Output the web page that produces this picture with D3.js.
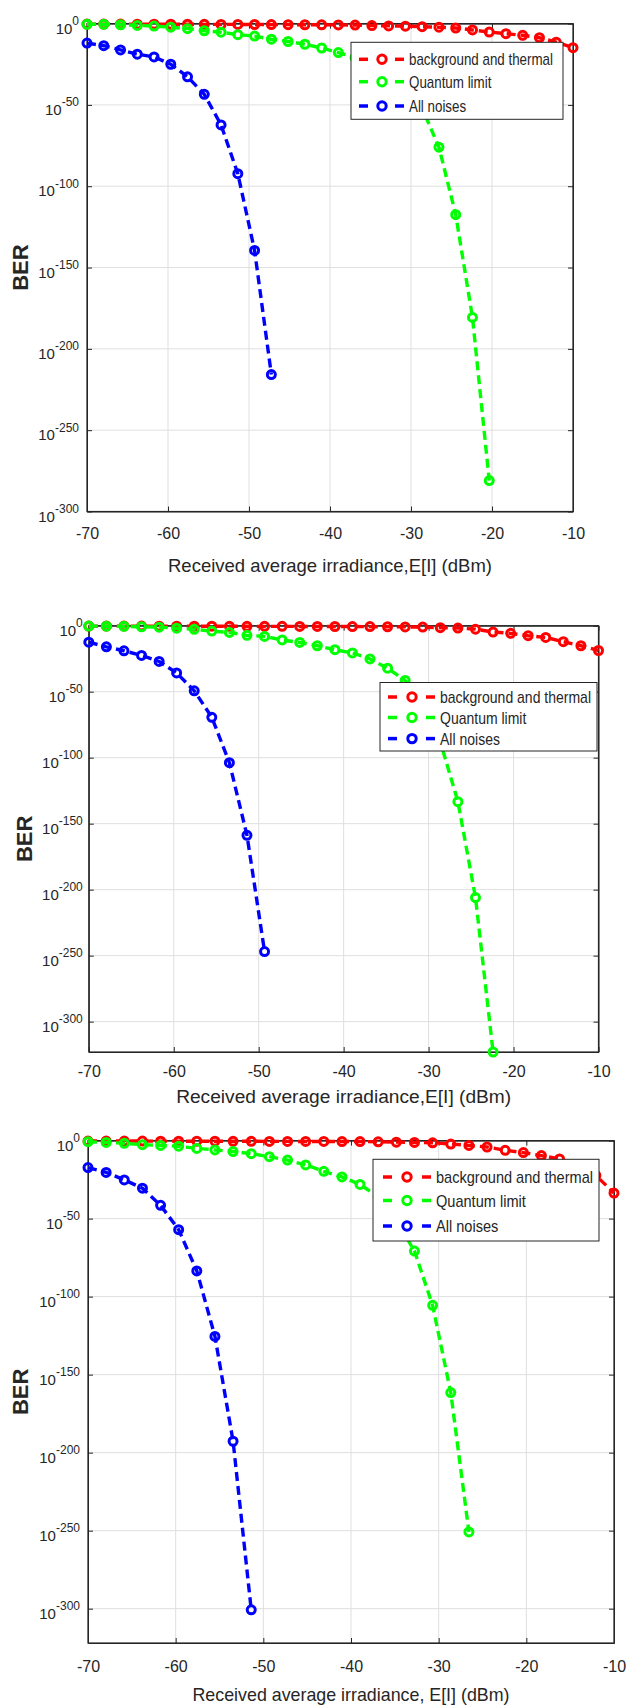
<!DOCTYPE html>
<html>
<head>
<meta charset="utf-8">
<script src="https://cdn.jsdelivr.net/npm/d3@7"></script>
<style>
  body { margin: 0; background: #fff; }
  text { font-family: "Liberation Sans", Arial, sans-serif; fill: #262626; }
</style>
</head>
<body>
<div id="chart"></div>
<script>
// received average irradiance (dBm), same grid for all three panels
var xDbm = [-70, -67.93, -65.86, -63.79, -61.72, -59.66, -57.59, -55.52, -53.45, -51.38,
            -49.31, -47.24, -45.17, -43.10, -41.03, -38.97, -36.90, -34.83, -32.76, -30.69,
            -28.62, -26.55, -24.48, -22.41, -20.34, -18.28, -16.21, -14.14, -12.07, -10];

var xTicks = [-70, -60, -50, -40, -30, -20, -10];
var yTickExp = [0, -50, -100, -150, -200, -250, -300];   // BER = 10^exp
var seriesNames = ["background and thermal", "Quantum limit", "All noises"];
var seriesColors = ["#ff0000", "#00ff00", "#0000ff"];
var xTitles = ["Received average irradiance,E[I] (dBm)",
               "Received average irradiance,E[I] (dBm)",
               "Received average irradiance, E[I] (dBm)"];

// values are log10(BER)
var p1Thermal = [-0.3, -0.3, -0.3, -0.35, -0.35, -0.4, -0.4, -0.45, -0.5, -0.5,
                 -0.55, -0.6, -0.65, -0.7, -0.75, -0.8, -0.9, -1.2, -1.4, -1.6,
                 -1.9, -2.2, -2.7, -3.9, -5.2, -6.2, -7.2, -8.7, -11.4, -14.8];
var p1Quantum = [-0.4, -0.45, -0.7, -1.1, -1.5, -2.2, -3.1, -4.4, -5.3, -6.8,
                 -7.7, -9.6, -11, -12.7, -15, -17.8, -21, -26, -33, -41,
                 -52, -76, -117.5, -180.7, -281];
var p1AllNoise = [-12, -13.6, -16.2, -18.8, -20.5, -25, -32.7, -43.5, -62.3, -92.3, -139.5, -215.8];

var p2Thermal = [-0.3, -0.3, -0.3, -0.3, -0.35, -0.35, -0.4, -0.4, -0.45, -0.45,
                 -0.5, -0.5, -0.55, -0.55, -0.6, -0.65, -0.7, -0.8, -0.9, -1.0,
                 -1.5, -1.8, -2.6, -4.8, -5.8, -7.6, -8.9, -12.1, -15.2, -18.8];
var p2Quantum = [-0.3, -0.4, -0.5, -0.8, -1.1, -1.9, -2.7, -4.1, -5.1, -7.3,
                 -8.1, -10.8, -12.7, -15.2, -18.2, -20.6, -25.2, -32.2, -41.5, -58,
                 -88, -133.3, -206, -323];
var p2AllNoise = [-12.5, -16, -19, -22.5, -27.1, -35.8, -49.3, -69.4, -103.8, -158.8, -246.9];

var p3Thermal = [-0.3, -0.3, -0.3, -0.3, -0.35, -0.35, -0.4, -0.4, -0.45, -0.45,
                 -0.5, -0.5, -0.55, -0.55, -0.6, -0.6, -0.8, -1.0, -1.2, -1.4,
                 -2.2, -3.1, -4.1, -6.2, -7.7, -9.6, -11.8, -16, -22.3, -33.6];
var p3Quantum = [-0.7, -1.2, -1.7, -2.6, -3.1, -3.6, -5, -6, -7, -8.4,
                 -10.3, -12.5, -15.6, -19.7, -23.3, -28.1, -36, -51, -70.8, -105.6,
                 -161.5, -250.8];
var p3AllNoise = [-17.3, -20.4, -25.2, -30.5, -41.5, -57.1, -83.5, -125.5, -192.7, -300.7];

var W = 627, H = 1707;

var svg = d3.select("#chart").append("svg")
    .attr("width", W)
    .attr("height", H)
    .style("display", "block");

var panels = [
  { left: 87, right: 573, top: 23.6, bottom: 511.5, yMin: -300,
    series: [p1Thermal, p1Quantum, p1AllNoise],
    xPad: 16.5, yPad: 8, xlabY: 572, xlabW: 324, xlabSize: 19, berX: 20,
    legend: { x0: 351, x1: 563, y0: 42.3, y1: 119.3, rows: [59.3, 81.7, 106], lx0: 359, lx1: 404, mx: 382, tx: 409, tw: 144 } },
  { left: 88.8, right: 598.5, top: 625.7, bottom: 1052, yMin: -323,
    series: [p2Thermal, p2Quantum, p2AllNoise],
    xPad: 13.5, yPad: 6, xlabY: 1103, xlabW: 335, xlabSize: 18, berX: 24,
    legend: { x0: 380, x1: 597, y0: 682.5, y1: 751, rows: [697, 717.5, 738.6], lx0: 388, lx1: 435, mx: 412, tx: 440, tw: 151 } },
  { left: 88, right: 614, top: 1140.6, bottom: 1643, yMin: -322,
    series: [p3Thermal, p3Quantum, p3AllNoise],
    xPad: 17.5, yPad: 8, xlabY: 1701, xlabW: 317, xlabSize: 19, berX: 20,
    legend: { x0: 373, x1: 599, y0: 1159.3, y1: 1241, rows: [1177, 1200.5, 1226], lx0: 383, lx1: 431, mx: 407, tx: 436, tw: 157 } }
];

function drawPanel(p, pi) {
  var g = svg.append("g");

  var x = d3.scaleLinear().domain([-70, -10]).range([p.left, p.right]);
  var y = d3.scaleLinear().domain([p.yMin, 0]).range([p.bottom, p.top]);

  // grid
  g.selectAll(".vgrid")
    .data(xTicks)
    .enter()
    .append("line")
      .attr("x1", function(d) { return x(d); })
      .attr("x2", function(d) { return x(d); })
      .attr("y1", p.top)
      .attr("y2", p.bottom)
      .attr("stroke", "#dfdfdf")
      .attr("stroke-width", 1);
  g.selectAll(".hgrid")
    .data(yTickExp)
    .enter()
    .append("line")
      .attr("x1", p.left)
      .attr("x2", p.right)
      .attr("y1", function(d) { return y(d); })
      .attr("y2", function(d) { return y(d); })
      .attr("stroke", "#dfdfdf")
      .attr("stroke-width", 1);

  // axes, ticks pointing inward like matlab
  var bottomAxis = g.append("g")
    .attr("transform", "translate(0," + p.bottom + ")")
    .call(d3.axisBottom(x).tickValues(xTicks).tickSize(-5).tickSizeOuter(0)
          .tickPadding(p.xPad).tickFormat(function(d) { return String(d); }));
  bottomAxis.selectAll("text")
    .style("font-size", "16px")
    .attr("fill", "#262626");

  g.append("g")
    .attr("transform", "translate(0," + p.top + ")")
    .call(d3.axisTop(x).tickValues(xTicks).tickSize(-5).tickSizeOuter(0).tickFormat(""));

  g.append("g")
    .attr("transform", "translate(" + p.left + ",0)")
    .call(d3.axisLeft(y).tickValues(yTickExp).tickSize(-5).tickSizeOuter(0).tickFormat(""));

  g.append("g")
    .attr("transform", "translate(" + p.right + ",0)")
    .call(d3.axisRight(y).tickValues(yTickExp).tickSize(-5).tickSizeOuter(0).tickFormat(""));

  g.selectAll(".domain, .tick line").attr("stroke", "#262626");

  g.append("rect")
    .attr("x", p.left)
    .attr("y", p.top)
    .attr("width", p.right - p.left)
    .attr("height", p.bottom - p.top)
    .attr("fill", "none")
    .attr("stroke", "#262626")
    .attr("stroke-width", 1.2);

  // 10^n labels
  g.selectAll(".ylab")
    .data(yTickExp)
    .enter()
    .append("text")
      .attr("x", p.left - p.yPad)
      .attr("y", function(d) { return y(d) + 10; })
      .attr("text-anchor", "end")
      .each(function(d) {
        var t = d3.select(this);
        t.append("tspan").style("font-size", "15px").text("10");
        t.append("tspan").attr("dy", -8.5).style("font-size", "12px").text(String(d));
      });

  // data
  var line = d3.line()
    .x(function(d, i) { return x(xDbm[i]); })
    .y(function(d) { return y(d); });

  p.series.forEach(function(vals, k) {
    g.append("path")
      .datum(vals)
      .attr("d", line)
      .attr("fill", "none")
      .attr("stroke", seriesColors[k])
      .attr("stroke-width", 3.4)
      .attr("stroke-dasharray", "9,5");

    g.selectAll(".pt" + k)
      .data(vals)
      .enter()
      .append("circle")
        .attr("cx", function(d, i) { return x(xDbm[i]); })
        .attr("cy", function(d) { return y(d); })
        .attr("r", 4)
        .attr("fill", "none")
        .attr("stroke", seriesColors[k])
        .attr("stroke-width", 3);
  });

  // legend
  var L = p.legend;
  g.append("rect")
    .attr("x", L.x0)
    .attr("y", L.y0)
    .attr("width", L.x1 - L.x0)
    .attr("height", L.y1 - L.y0)
    .attr("fill", "#fff")
    .attr("stroke", "#262626")
    .attr("stroke-width", 1);

  var squeeze = 1;
  seriesNames.forEach(function(name, k) {
    var ry = L.rows[k];
    g.append("line")
      .attr("x1", L.lx0).attr("x2", L.lx0 + 9)
      .attr("y1", ry).attr("y2", ry)
      .attr("stroke", seriesColors[k]).attr("stroke-width", 3.5);
    g.append("line")
      .attr("x1", L.lx1 - 9).attr("x2", L.lx1)
      .attr("y1", ry).attr("y2", ry)
      .attr("stroke", seriesColors[k]).attr("stroke-width", 3.5);
    g.append("circle")
      .attr("cx", L.mx).attr("cy", ry).attr("r", 4.2)
      .attr("fill", "none")
      .attr("stroke", seriesColors[k]).attr("stroke-width", 3);
    var t = g.append("text")
      .attr("x", L.tx)
      .attr("y", ry + 6)
      .style("font-size", "17px")
      .text(name);
    // first entry sets the horizontal squeeze for the whole legend
    var natural = t.node().getComputedTextLength();
    if (k === 0) squeeze = L.tw / natural;
    t.attr("textLength", natural * squeeze)
     .attr("lengthAdjust", "spacingAndGlyphs");
  });

  // axis titles
  g.append("text")
    .attr("x", (p.left + p.right) / 2 - p.xlabW / 2)
    .attr("y", p.xlabY)
    .attr("textLength", p.xlabW)
    .attr("lengthAdjust", "spacingAndGlyphs")
    .style("font-size", p.xlabSize + "px")
    .text(xTitles[pi]);

  g.append("text")
    .attr("transform", "translate(" + (p.berX + 8) + "," + ((p.top + p.bottom) / 2) + ") rotate(-90)")
    .attr("text-anchor", "middle")
    .style("font-size", "22px")
    .style("font-weight", "bold")
    .text("BER");
}

panels.forEach(drawPanel);
</script>
</body>
</html>
